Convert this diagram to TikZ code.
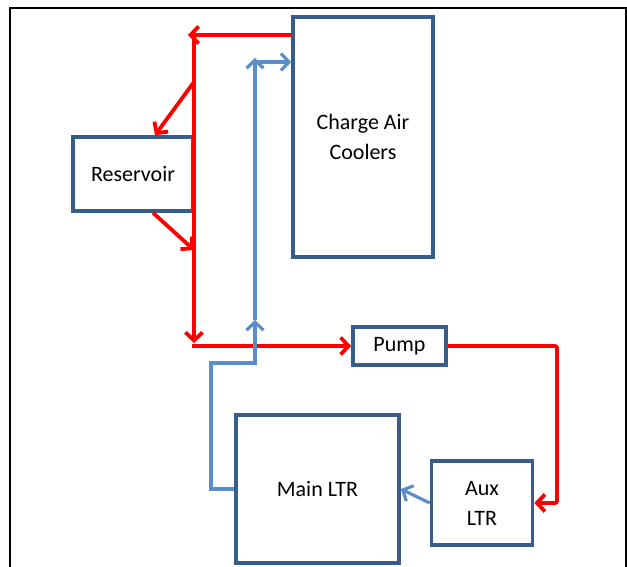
\documentclass[tikz,border=0pt]{standalone}
\usepackage{fontspec}
\setmainfont{Carlito}
\usepackage{tikz}
\usetikzlibrary{arrows.meta}
\definecolor{boxblue}{RGB}{56,93,138}
\definecolor{flowblue}{RGB}{91,141,201}
\definecolor{flowred}{RGB}{255,0,0}

\begin{document}
\begin{tikzpicture}[
  x=1pt, y=-1pt,
  >={Straight Barb[length=8pt, width=17pt]},
  unit/.style={draw=boxblue, line width=3.6pt, align=center, inner sep=0pt,
               font=\fontsize{22}{30}\selectfont},
  redflow/.style={draw=flowred, line width=3.8pt},
  blueflow/.style={draw=flowblue, line width=3.2pt}]
\useasboundingbox (0,0) rectangle (627,567);
% outer frame
\draw[line width=2pt] (10,567) -- (10,8) -- (626,8) -- (626,567);
% units
\node[unit, minimum width=140pt, minimum height=240pt] (cac) at (363,137) {Charge Air\\Coolers};
\node[unit, minimum width=120pt, minimum height=74pt] (res) at (133,174) {Reservoir};
\node[unit, minimum width=93pt, minimum height=38pt] (pump) at (399.5,346) {Pump};
\node[unit, minimum width=163pt, minimum height=148pt] (main) at (317.5,489) {Main LTR};
\node[unit, minimum width=101pt, minimum height=84pt] (aux) at (482,503) {Aux\\LTR};
% junction points
\coordinate (rtop) at (194,35);
\coordinate (rsplit) at (194,82);
\coordinate (rjoin) at (194,250);
\coordinate (rcorner) at (194,346);
\coordinate (rright) at (557,420);
\coordinate (bleft) at (211,363);
\coordinate (bup) at (255,363);
\coordinate (btop) at (255,62);
% red loop
\draw[redflow, ->] (cac.west |- rtop) -- ([xshift=-6pt]rtop);
\draw[redflow, ->] (rtop) -- ([yshift=3pt]rcorner);
\draw[redflow, ->] (rsplit) -- ([xshift=22pt]res.north);
\draw[redflow, ->] ([xshift=20pt]res.south) -- (rjoin);
\draw[redflow, ->] ([xshift=-2pt]rcorner) -- (pump.west);
\draw[redflow, ->, rounded corners=2pt] (pump.east) -| (rright) |- (aux.east);
% blue loop
\draw[blueflow, ->] (aux.west) -- (main.east);
\draw[blueflow, ->] (main.west) -| (bleft) -- (bup) -- ([yshift=43pt]bup);
\draw[blueflow, ->] ([yshift=43pt]bup) -- ([yshift=4pt]btop);
\draw[blueflow, ->] (btop) -- (cac.west |- btop);
\end{tikzpicture}
\end{document}
